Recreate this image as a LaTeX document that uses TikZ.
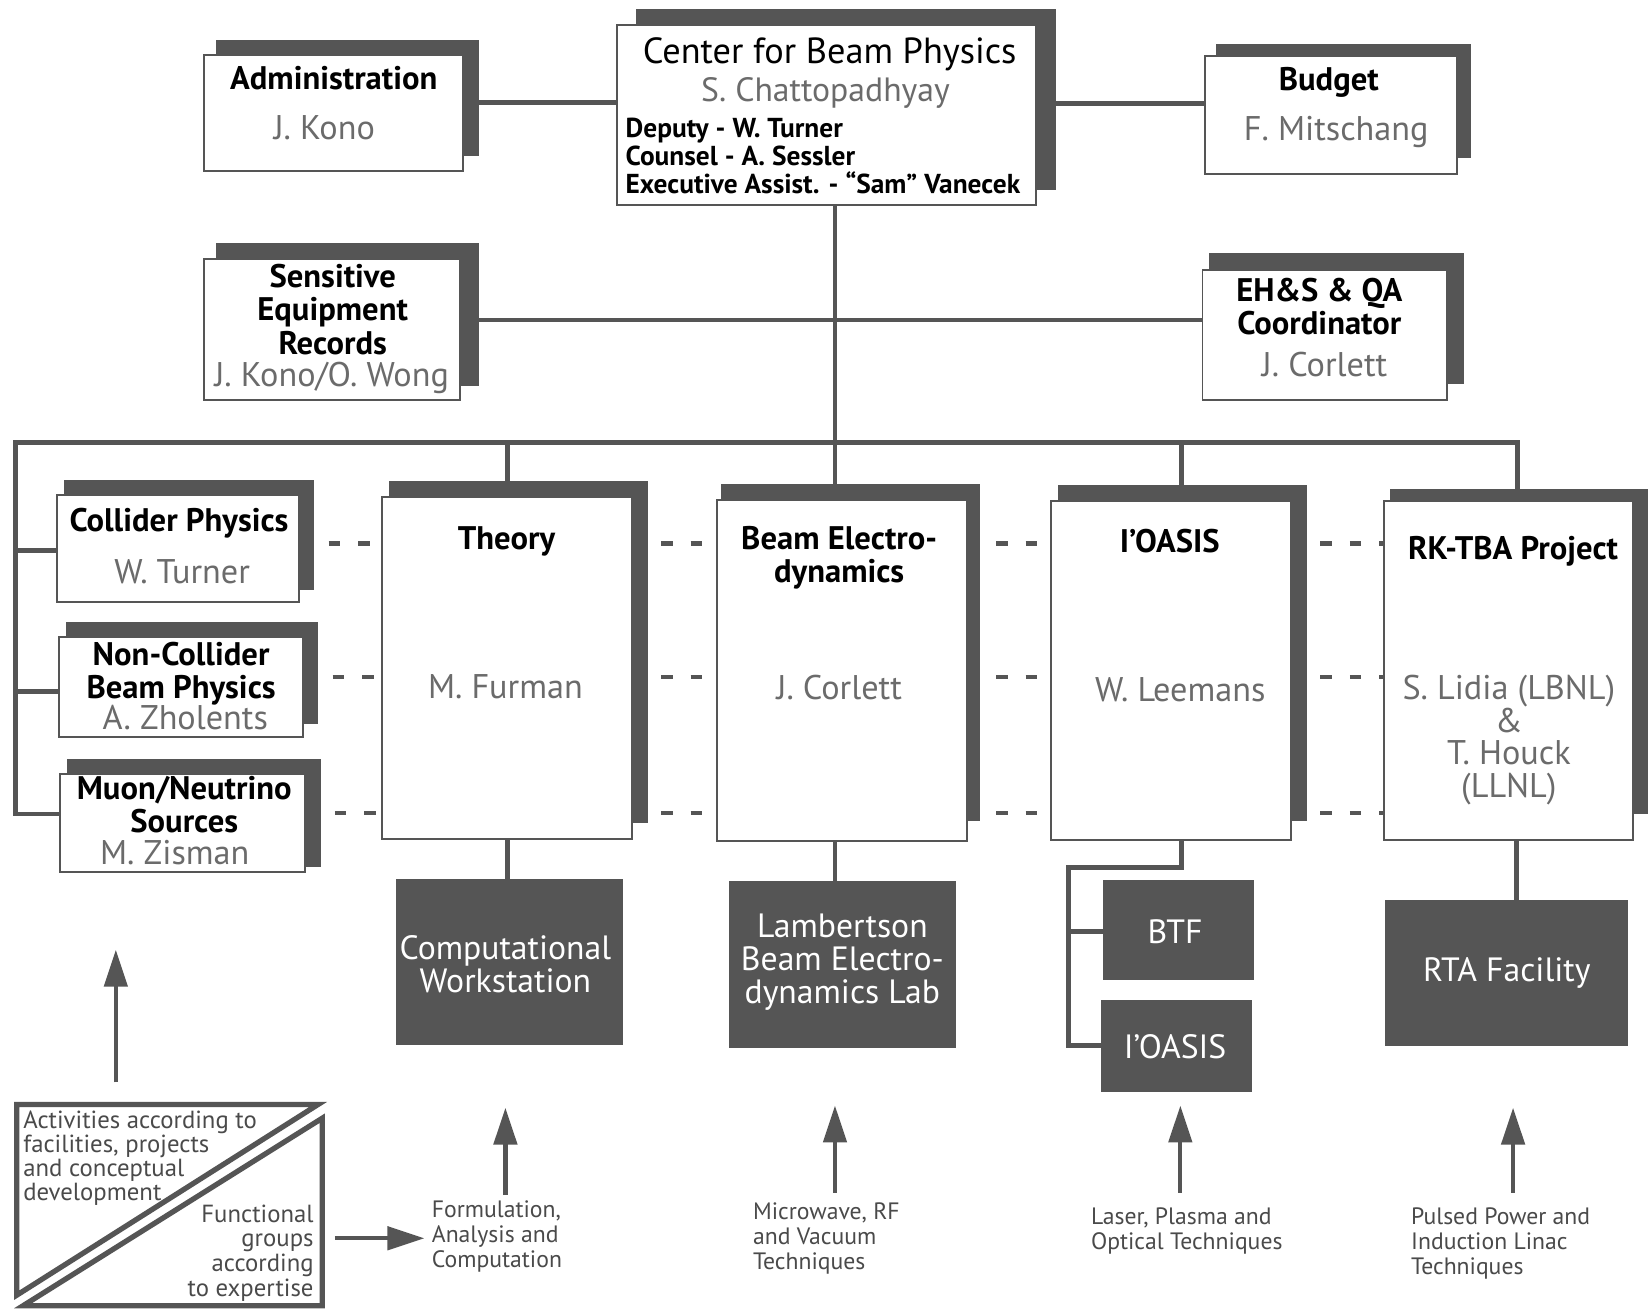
\documentclass[tikz,border=0pt]{standalone}
\usepackage{fontspec}
\setmainfont{PT Sans}
\usetikzlibrary{arrows.meta}
\definecolor{dk}{HTML}{555555}
\definecolor{namegray}{HTML}{6B6B6B}
\definecolor{lg}{HTML}{4A4A4A}
\pgfdeclarelayer{bg}
\pgfdeclarelayer{sh}
\pgfsetlayers{bg,sh,main}
\newcommand\mkbox[7]{\node[#1, minimum width={(#5-#3)*1pt}, minimum height={(#6-#4)*1pt}] (#2) at ({(#3+#5)/2},{(#4+#6)/2}) {#7};}
\newcommand\mkshadow[4]{\begin{pgfonlayer}{sh}\fill[dk] (#1,#2) rectangle (#3,#4);\end{pgfonlayer}}
\tikzset{
 conn/.style={draw=dk, line width=4.5pt, line join=miter},
 dsh/.style={draw=dk, line width=4.5pt, dash pattern=on 11pt off 17pt},
 wbox/.style={draw=dk, fill=white, line width=1.8pt, inner sep=0, outer sep=0},
 dbox/.style={fill=dk, inner sep=0, outer sep=0},
 hd/.style={font=\bfseries\fontsize{31}{31}\selectfont, align=center, inner sep=0},
 nm/.style={text=namegray, font=\fontsize{32.5}{31}\selectfont, align=center, inner sep=0},
 wt/.style={text=white, font=\fontsize{32}{31.5}\selectfont, align=center, inner sep=0},
 lb/.style={text=lg, font=\fontsize{22.5}{23.8}\selectfont, align=left, inner sep=0, anchor=west},
 arr/.style={draw=dk, line width=4pt, -{Triangle[length=35pt,width=22pt]}},
 leg/.style={draw=dk, line width=5pt, line join=miter},
}
\begin{document}
\begin{tikzpicture}[x=1pt,y=-1pt]
\begin{pgfonlayer}{bg}
\fill[white] (0,0) rectangle (1568,1248);
\end{pgfonlayer}
\useasboundingbox (0,0) rectangle (1568,1248);

% shadows
\mkshadow{205}{38}{455}{148}
\mkshadow{604}{9}{1003}{180}
\mkshadow{1155}{42}{1397}{150}
\mkshadow{205}{231}{455}{367}
\mkshadow{1148}{240}{1390}{365}
\mkshadow{61}{456}{298}{560}
\mkshadow{63}{591}{302}{688}
\mkshadow{64}{721}{305}{823}
\mkshadow{369}{457}{615}{782}
\mkshadow{685}{460}{931}{780}
\mkshadow{1005}{461}{1241}{780}
\mkshadow{1320}{464}{1565}{773}

% front boxes
\mkbox{wbox}{adm}{194}{52}{440}{162}{}
\mkbox{wbox}{cbp}{586}{24}{984}{195}{}
\mkbox{wbox}{bud}{1144}{53}{1384}{165}{}
\mkbox{wbox}{ser}{194}{246}{437}{380}{}
\mkbox{wbox}{ehs}{1142}{256}{1374}{380}{}
\mkbox{wbox}{col}{54}{470}{284}{572}{}
\mkbox{wbox}{ncb}{56}{605}{288}{700}{}
\mkbox{wbox}{muo}{57}{735}{290}{828}{}
\mkbox{wbox}{the}{363}{472}{600}{797}{}
\mkbox{wbox}{bed}{681}{475}{918}{799}{}
\mkbox{wbox}{ioa}{998}{476}{1226}{798}{}
\mkbox{wbox}{rkt}{1314}{476}{1551}{798}{}
\mkbox{dbox}{cws}{376}{835}{592}{992}{}
\mkbox{dbox}{lab}{692}{837}{908}{995}{}
\mkbox{dbox}{btf}{1048}{836}{1191}{931}{}
\mkbox{dbox}{iob}{1046}{950}{1189}{1037}{}
\mkbox{dbox}{rta}{1315}{855}{1546}{993}{}

% texts
\node[hd] (admT) at (317,74) {Administration};
\node[nm] (admN) at (308,121) {J. Kono};
\node[inner sep=0, font=\fontsize{34.5}{36}\selectfont] (cbpT) at (788,52) {Center for Beam Physics};
\node[nm, font=\fontsize{32}{32}\selectfont] (cbpN) at (784,88) {S. Chattopadhyay};
\node[inner sep=0, font=\bfseries\fontsize{26}{26.5}\selectfont, align=left, anchor=west] (cbpD) at (594,148) {Deputy - W. Turner\\Counsel - A. Sessler\\Executive Assist. - “Sam” Vanecek};
\node[hd] (budT) at (1262,78) {Budget};
\node[nm] (budN) at (1269,125) {F. Mitschang};
\node[hd, font=\bfseries\fontsize{31}{32}\selectfont] (serT) at (316,294) {Sensitive\\Equipment\\Records};
\node[nm] (serN) at (315,359) {J. Kono/O. Wong};
\node[hd] (ehsT) at (1253,291) {EH\&S \& QA\\Coordinator};
\node[nm] (ehsN) at (1258,346) {J. Corlett};
\node[hd] (colT) at (170,497) {Collider Physics};
\node[nm] (colN) at (173,543) {W. Turner};
\node[hd] (ncbT) at (172,640) {Non-Collider\\Beam Physics};
\node[nm] (ncbN) at (176,681) {A. Zholents};
\node[hd] (muoT) at (175,764) {Muon/Neutrino\\Sources};
\node[nm] (muoN) at (166,810) {M. Zisman};
\node[hd] (theT) at (481,514) {Theory};
\node[nm] (theN) at (480,652) {M. Furman};
\node[hd] (bedT) at (797,530) {Beam Electro-\\dynamics};
\node[nm] (bedN) at (797,653) {J. Corlett};
\node[hd] (ioaT) at (1111,514) {I'OASIS};
\node[nm] (ioaN) at (1121,655) {W. Leemans};
\node[hd] (rktT) at (1437,524) {RK-TBA Project};
\node[nm] (rktN) at (1433,703) {S. Lidia (LBNL)\\\&\\T. Houck\\(LLNL)};
\node[wt] (cwsT) at (480,916) {Computational\\Workstation};
\node[wt] (labT) at (800,914) {Lambertson\\Beam Electro-\\dynamics Lab};
\node[wt] (btfT) at (1116,885) {BTF};
\node[wt] (iobT) at (1116,994) {I'OASIS};
\node[wt] (rtaT) at (1431,924) {RTA Facility};

\node[lb] (lbF) at (410,1174) {Formulation,\\Analysis and\\Computation};
\node[lb] (lbM) at (715,1176) {Microwave, RF\\and Vacuum\\Techniques};
\node[lb] (lbL) at (1036,1169) {Laser, Plasma and\\Optical Techniques};
\node[lb] (lbP) at (1340,1181) {Pulsed Power and\\Induction Linac\\Techniques};
\node[lb, font=\fontsize{23.5}{23}\selectfont] (legA) at (22,1100) {Activities according to\\facilities, projects\\and conceptual\\development};
\node[lb, font=\fontsize{23.5}{23.5}\selectfont, anchor=east, align=right] (legB) at (298,1190) {Functional\\groups\\according\\to expertise};

% legend frame
\draw[leg] (16,1049) -- (302,1049) -- (16,1230) -- cycle;
\draw[leg] (306,1062) -- (306,1240) -- (22,1240) -- cycle;

% arrows
\coordinate (a0s) at (110,1028); \coordinate (a0e) at (110,902);
\coordinate (a1s) at (480,1135); \coordinate (a1e) at (480,1052);
\coordinate (a2s) at (793,1133); \coordinate (a2e) at (793,1050);
\coordinate (a3s) at (1121,1133); \coordinate (a3e) at (1121,1050);
\coordinate (a4s) at (1437,1133); \coordinate (a4e) at (1437,1052);
\coordinate (a5s) at (318,1176);
\draw[arr] (a0s) -- (a0e);
\draw[arr] (a1s) -- (a1e);
\draw[arr] (a2s) -- (a2e);
\draw[arr] (a3s) -- (a3e);
\draw[arr] (a4s) -- (a4e);
\draw[arr, shorten >=7pt] (a5s) -- (a5s -| lbF.west);

% connectors
\begin{pgfonlayer}{bg}
\coordinate (h1) at (0,97); \coordinate (h2) at (0,98); \coordinate (h3) at (0,304);
\draw[conn] (adm.east |- h1) -- (cbp.west |- h1);
\draw[conn] (cbp.east |- h2) -- (bud.west |- h2);
\coordinate (j0) at (793,420);
\draw[conn] (cbp.south -| j0) -- (j0);
\draw[conn] (ser.east |- h3) -- (ehs.west |- h3);
\coordinate (busL) at (15,420); \coordinate (busR) at (1441,420);
\coordinate (lb1) at (15,523); \coordinate (lb2) at (15,657); \coordinate (lb3) at (15,773);
\draw[conn] (muo.west |- lb3) -- (lb3) -- (busL) -- (busR) -- (busR |- rkt.north);
\draw[conn] (lb1) -- (lb1 -| col.west);
\draw[conn] (lb2) -- (lb2 -| ncb.west);
\coordinate (v1) at (482,420); \draw[conn] (v1) -- (v1 |- the.north);
\draw[conn] (j0) -- (j0 |- bed.north);
\coordinate (v3) at (1122,420); \draw[conn] (v3) -- (v3 |- ioa.north);
\coordinate (w1) at (482,0); \draw[conn] (the.south -| w1) -- (cws.north -| w1);
\coordinate (w2) at (793,0); \draw[conn] (bed.south -| w2) -- (lab.north -| w2);
\coordinate (k1) at (1122,824); \coordinate (k2) at (1015,824); \coordinate (k3) at (1015,993); \coordinate (k4) at (1015,885);
\draw[conn] (ioa.south -| k1) -- (k1) -- (k2) -- (k3) -- (k3 -| iob.west);
\draw[conn] (k4) -- (k4 -| btf.west);
\coordinate (w4) at (1440,0); \draw[conn] (rkt.south -| w4) -- (rta.north -| w4);
% dashed
\coordinate (d1) at (0,516); \coordinate (d2) at (0,643); \coordinate (d3) at (0,772);
\draw[dsh] (col.east |- d1) -- (the.west |- d1);
\draw[dsh] (the.east |- d1) -- (bed.west |- d1);
\draw[dsh] (bed.east |- d1) -- (ioa.west |- d1);
\draw[dsh] (ioa.east |- d1) -- (rkt.west |- d1);
\draw[dsh] (ncb.east |- d2) -- (the.west |- d2);
\draw[dsh] (the.east |- d2) -- (bed.west |- d2);
\draw[dsh] (bed.east |- d2) -- (ioa.west |- d2);
\draw[dsh] (ioa.east |- d2) -- (rkt.west |- d2);
\draw[dsh] (muo.east |- d3) -- (the.west |- d3);
\draw[dsh] (the.east |- d3) -- (bed.west |- d3);
\draw[dsh] (bed.east |- d3) -- (ioa.west |- d3);
\draw[dsh] (ioa.east |- d3) -- (rkt.west |- d3);
\end{pgfonlayer}
\end{tikzpicture}
\end{document}
